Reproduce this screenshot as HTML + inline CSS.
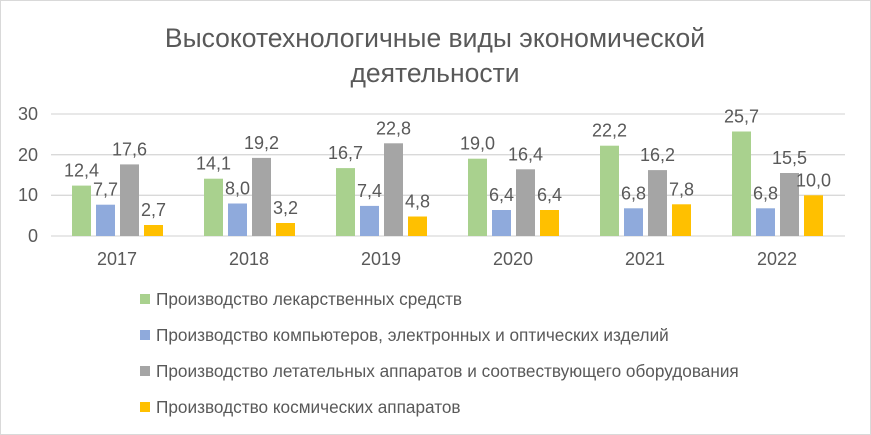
<!DOCTYPE html>
<html><head><meta charset="utf-8"><style>
body{margin:0;background:#fff}
svg{display:block;font-family:"Liberation Sans",sans-serif}
</style></head><body>
<svg width="871" height="435" xmlns="http://www.w3.org/2000/svg">
<rect x="0.5" y="0.5" width="870" height="434" fill="#fff" stroke="#d9d9d9"/>
<g fill="#595959" font-size="26.5" text-anchor="middle">
<text x="435" y="47">Высокотехнологичные виды экономической</text>
<text x="435" y="82">деятельности</text>
</g>
<g stroke="#d9d9d9" stroke-width="1.3">
<line x1="51" x2="845" y1="114" y2="114"/><line x1="51" x2="845" y1="154.7" y2="154.7"/>
<line x1="51" x2="845" y1="195.3" y2="195.3"/><line x1="51" x2="845" y1="236" y2="236"/>
</g>
<g fill="#595959" font-size="18" text-anchor="end">
<text x="38" y="120">30</text><text x="38" y="161">20</text><text x="38" y="201">10</text><text x="38" y="242">0</text>
</g>
<g>
<rect x="72" y="185.6" width="19" height="50.4" fill="#a9d18e"/><rect x="96" y="204.7" width="19" height="31.3" fill="#8faadc"/><rect x="120" y="164.4" width="19" height="71.6" fill="#a5a5a5"/><rect x="144" y="225" width="19" height="11" fill="#ffc000"/>
<rect x="204" y="178.7" width="19" height="57.3" fill="#a9d18e"/><rect x="228" y="203.5" width="19" height="32.5" fill="#8faadc"/><rect x="252" y="157.9" width="19" height="78.1" fill="#a5a5a5"/><rect x="276" y="223" width="19" height="13" fill="#ffc000"/>
<rect x="336" y="168.1" width="19" height="67.9" fill="#a9d18e"/><rect x="360" y="205.9" width="19" height="30.1" fill="#8faadc"/><rect x="384" y="143.3" width="19" height="92.7" fill="#a5a5a5"/><rect x="408" y="216.5" width="19" height="19.5" fill="#ffc000"/>
<rect x="468" y="158.7" width="19" height="77.3" fill="#a9d18e"/><rect x="492" y="210" width="19" height="26" fill="#8faadc"/><rect x="516" y="169.3" width="19" height="66.7" fill="#a5a5a5"/><rect x="540" y="210" width="19" height="26" fill="#ffc000"/>
<rect x="600" y="145.7" width="19" height="90.3" fill="#a9d18e"/><rect x="624" y="208.3" width="19" height="27.7" fill="#8faadc"/><rect x="648" y="170.1" width="19" height="65.9" fill="#a5a5a5"/><rect x="672" y="204.3" width="19" height="31.7" fill="#ffc000"/>
<rect x="732" y="131.5" width="19" height="104.5" fill="#a9d18e"/><rect x="756" y="208.3" width="19" height="27.7" fill="#8faadc"/><rect x="780" y="173" width="19" height="63" fill="#a5a5a5"/><rect x="804" y="195.3" width="19" height="40.7" fill="#ffc000"/>
</g>
<g fill="#595959" font-size="18" text-anchor="middle">
<text x="81.5" y="176.6">12,4</text><text x="105.5" y="195.7">7,7</text><text x="129.5" y="155.4">17,6</text><text x="153.5" y="216">2,7</text>
<text x="213.5" y="169.7">14,1</text><text x="237.5" y="194.5">8,0</text><text x="261.5" y="148.9">19,2</text><text x="285.5" y="214">3,2</text>
<text x="345.5" y="159.1">16,7</text><text x="369.5" y="196.9">7,4</text><text x="393.5" y="134.3">22,8</text><text x="417.5" y="207.5">4,8</text>
<text x="477.5" y="149.7">19,0</text><text x="501.5" y="201">6,4</text><text x="525.5" y="160.3">16,4</text><text x="549.5" y="201">6,4</text>
<text x="609.5" y="136.7">22,2</text><text x="633.5" y="199.3">6,8</text><text x="657.5" y="161.1">16,2</text><text x="681.5" y="195.3">7,8</text>
<text x="741.5" y="122.5">25,7</text><text x="765.5" y="199.3">6,8</text><text x="789.5" y="164">15,5</text><text x="813.5" y="186.3">10,0</text>
<text x="117" y="265">2017</text><text x="249" y="265">2018</text><text x="381" y="265">2019</text><text x="513" y="265">2020</text><text x="645" y="265">2021</text><text x="777" y="265">2022</text>
</g>
<g font-size="17.2" fill="#595959">
<rect x="140" y="294" width="10" height="10" fill="#a9d18e"/><text x="156" y="305">Производство лекарственных средств</text>
<rect x="140" y="330" width="10" height="10" fill="#8faadc"/><text x="156" y="341">Производство компьютеров, электронных и оптических изделий</text>
<rect x="140" y="366" width="10" height="10" fill="#a5a5a5"/><text x="156" y="377">Производство летательных аппаратов и соотвествующего оборудования</text>
<rect x="140" y="402" width="10" height="10" fill="#ffc000"/><text x="156" y="413">Производство космических аппаратов</text>
</g>
</svg>
</body></html>
